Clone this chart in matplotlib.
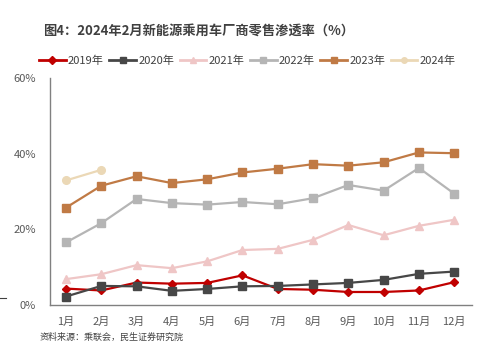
import matplotlib
matplotlib.use('Agg')
import matplotlib.pyplot as plt
from matplotlib.lines import Line2D

plt.rcParams['font.family'] = ['Noto Sans CJK SC', 'DejaVu Sans']

months = ['1月', '2月', '3月', '4月', '5月', '6月', '7月', '8月', '9月', '10月', '11月', '12月']

y2019 = [4.3, 3.8, 5.9, 5.6, 5.8, 7.8, 4.2, 4.0, 3.4, 3.4, 3.8, 6.0]
y2020 = [2.2, 5.0, 4.9, 3.7, 4.2, 4.9, 5.0, 5.4, 5.8, 6.6, 8.2, 8.8]
y2021 = [6.8, 8.1, 10.5, 9.7, 11.5, 14.5, 14.8, 17.2, 21.1, 18.4, 20.9, 22.5]
y2022 = [16.5, 21.6, 28.0, 26.9, 26.5, 27.2, 26.6, 28.2, 31.7, 30.2, 36.2, 29.4]
y2023 = [25.7, 31.5, 34.0, 32.2, 33.2, 35.0, 36.0, 37.2, 36.8, 37.7, 40.3, 40.1]
y2024 = [32.9, 35.7]

series = [
    ('2019年', y2019, '#C00000', 'D', 4.5),
    ('2020年', y2020, '#474747', 's', 5.5),
    ('2021年', y2021, '#EFC6C6', '^', 5.5),
    ('2022年', y2022, '#B5B5B5', 's', 5.5),
    ('2023年', y2023, '#C07A45', 's', 5.5),
    ('2024年', y2024, '#EBD8B6', 'o', 5.5),
]

fig = plt.figure(figsize=(4.82, 3.48), dpi=100)
ax = fig.add_axes([0.104, 0.124, 0.875, 0.652])

x = list(range(len(months)))
for name, vals, col, mk, ms in series:
    ax.plot(x[:len(vals)], vals, color=col, lw=1.6, marker=mk, ms=ms, label=name)

ax.set_ylim(0, 60)
ax.set_yticks([0, 20, 40, 60])
ax.set_yticklabels(['0%', '20%', '40%', '60%'])
ax.set_xlim(-0.45, 11.5)
ax.set_xticks(x)
ax.set_xticklabels(months)
ax.tick_params(length=0, labelsize=8, colors='#595959', pad=9)
ax.tick_params(axis='y', pad=10)
for s in ['top', 'right']:
    ax.spines[s].set_visible(False)
for s in ['left', 'bottom']:
    ax.spines[s].set_color('#808080')
    ax.spines[s].set_linewidth(1.0)

handles = [Line2D([0], [0], color=c, lw=2, marker=m, ms=4) for _, _, c, m, _ in series]
fig.legend(handles, [s[0] for s in series], loc='center', bbox_to_anchor=(0.513, 0.825),
           ncol=6, frameon=False, fontsize=8, handlelength=2.4, handletextpad=0.2,
           columnspacing=0.5, labelcolor='#404040')

fig.text(0.089, 0.912, '图4：2024年2月新能源乘用车厂商零售渗透率（%）', fontsize=9.5,
         fontweight='bold', color='#404040', va='center')
fig.text(0.083, 0.03, '资料来源：乘联会，民生证券研究院', fontsize=6.5, color='#404040', va='center')
fig.add_artist(Line2D([0.0, 0.013], [0.143, 0.143], color='#404040', lw=0.8))

fig.savefig('out.png', dpi=100)
